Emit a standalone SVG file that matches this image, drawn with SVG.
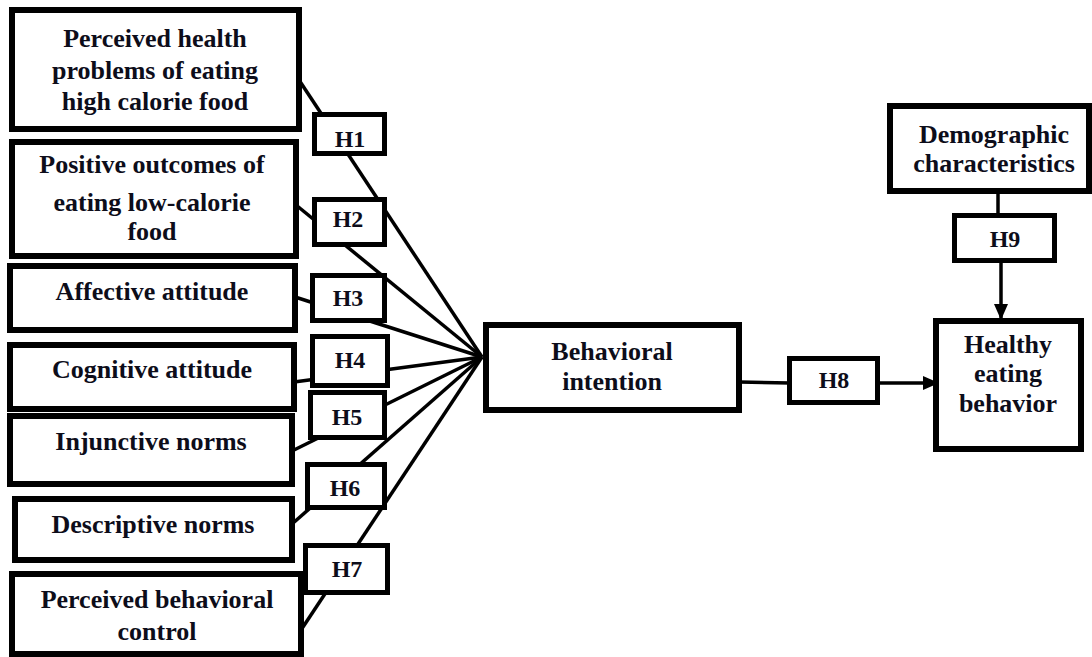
<svg xmlns="http://www.w3.org/2000/svg" width="1092" height="657" viewBox="0 0 1092 657">
<style>
.n{fill:#fff;stroke:#000;stroke-width:6}
.h{fill:#fff;stroke:#000;stroke-width:5}
.t{font-family:"Liberation Serif","Times New Roman",serif;font-weight:bold;font-size:26px;fill:#0d0d1a;text-anchor:middle}
.ht{font-family:"Liberation Serif","Times New Roman",serif;font-weight:bold;font-size:24px;fill:#0d0d1a;text-anchor:middle}
.c{stroke:#000;stroke-width:3.5;fill:none}
</style>
<defs>
<marker id="arr" markerUnits="userSpaceOnUse" markerWidth="16" markerHeight="14" refX="15" refY="7" orient="auto">
<path d="M0,0 L16,7 L0,14 Z" fill="#000"/>
</marker>
</defs>
<g id="connectors">
<line class="c" x1="299" y1="80" x2="482" y2="357"/>
<line class="c" x1="296" y1="205" x2="482" y2="357"/>
<line class="c" x1="295" y1="297" x2="482" y2="357"/>
<line class="c" x1="294" y1="382" x2="482" y2="357"/>
<line class="c" x1="292" y1="451" x2="482" y2="357"/>
<line class="c" x1="292" y1="524" x2="482" y2="357"/>
<line class="c" x1="301" y1="630" x2="482" y2="357"/>
<line class="c" x1="739" y1="382" x2="790" y2="383"/>
<line class="c" x1="877" y1="383" x2="938" y2="383" marker-end="url(#arr)"/>
<line class="c" x1="998" y1="191" x2="998" y2="216"/>
<line class="c" x1="1001" y1="260" x2="1001" y2="319" marker-end="url(#arr)"/>
</g>
<g id="n1"><rect class="n" x="12" y="10" width="287" height="119"/>
<text class="t" x="155" y="47">Perceived health</text><text class="t" x="155" y="79">problems of eating</text><text class="t" x="155" y="110">high calorie food</text></g>
<g id="n2"><rect class="n" x="12" y="142" width="284" height="114"/>
<text class="t" x="152" y="173">Positive outcomes of</text><text class="t" x="152" y="211">eating low-calorie</text><text class="t" x="152" y="240">food</text></g>
<g id="n3"><rect class="n" x="10" y="266" width="285" height="64"/>
<text class="t" x="152" y="300">Affective attitude</text></g>
<g id="n4"><rect class="n" x="10" y="345" width="284" height="64"/>
<text class="t" x="152" y="378">Cognitive attitude</text></g>
<g id="n5"><rect class="n" x="10" y="416" width="282" height="68"/>
<text class="t" x="151" y="450">Injunctive norms</text></g>
<g id="n6"><rect class="n" x="15" y="499" width="277" height="61"/>
<text class="t" x="153" y="533">Descriptive norms</text></g>
<g id="n7"><rect class="n" x="12" y="574" width="289" height="80"/>
<text class="t" x="157" y="608">Perceived behavioral</text><text class="t" x="157" y="640">control</text></g>
<g id="bi"><rect class="n" x="486" y="325" width="253" height="85"/>
<text class="t" x="612" y="360">Behavioral</text><text class="t" x="612" y="390">intention</text></g>
<g id="demo"><rect class="n" x="890" y="106" width="199" height="85"/>
<text class="t" x="994" y="143">Demographic</text><text class="t" x="994" y="172">characteristics</text></g>
<g id="heb"><rect class="n" x="936" y="321" width="145" height="128"/>
<text class="t" x="1008" y="353">Healthy</text><text class="t" x="1008" y="382">eating</text><text class="t" x="1008" y="412">behavior</text></g>
<g id="h1"><rect class="h" x="314.5" y="114.5" width="70" height="39"/><text class="ht" x="350" y="147">H1</text></g>
<g id="h2"><rect class="h" x="314.5" y="199.5" width="70" height="45"/><text class="ht" x="348" y="227">H2</text></g>
<g id="h3"><rect class="h" x="312.5" y="275.5" width="72" height="45"/><text class="ht" x="348" y="306">H3</text></g>
<g id="h4"><rect class="h" x="312.5" y="336.5" width="75" height="49"/><text class="ht" x="350" y="368">H4</text></g>
<g id="h5"><rect class="h" x="310.5" y="392.5" width="74" height="45"/><text class="ht" x="347" y="425">H5</text></g>
<g id="h6"><rect class="h" x="307.5" y="464.5" width="77" height="43"/><text class="ht" x="345" y="496">H6</text></g>
<g id="h7"><rect class="h" x="305.5" y="545.5" width="82" height="47"/><text class="ht" x="347" y="577">H7</text></g>
<g id="h8"><rect class="h" x="789.5" y="358.5" width="88" height="44"/><text class="ht" x="834" y="388">H8</text></g>
<g id="h9"><rect class="h" x="954.5" y="215.5" width="100" height="45"/><text class="ht" x="1005" y="247">H9</text></g>
</svg>
